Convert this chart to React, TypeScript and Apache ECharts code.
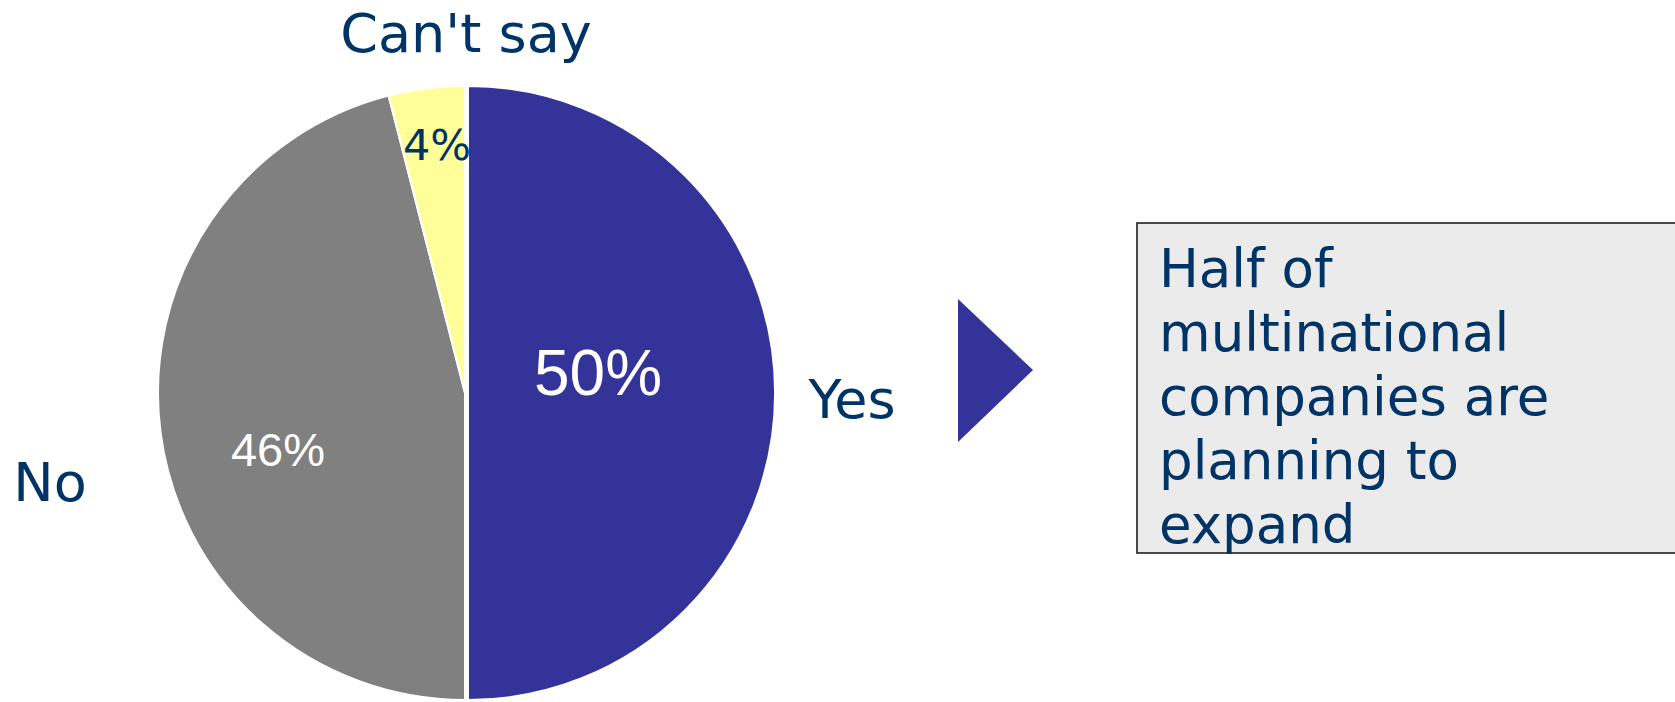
import React, { useEffect, useRef } from "react";
import * as echarts from "echarts";

const categories = ["Yes", "No", "Can't say"];
const values = [50, 46, 4];
const sliceColors = ["#333399", "#808080", "#FFFF99"];
const calloutLines = ["Half of", "multinational", "companies are", "planning to", "expand"];

const NAVY = "#003366";
const EXPLODED = 0; // index of the pulled-out slice

export default function App() {
  const ref = useRef<HTMLDivElement>(null);

  useEffect(() => {
    if (!ref.current) return;
    const chart = echarts.init(ref.current, null, { renderer: "svg" });

    const pctLabelStyles = [
      { color: "#ffffff", fontFamily: "Liberation Sans", fontSize: 64 },
      { color: "#ffffff", fontFamily: "Liberation Sans", fontSize: 47 },
      { color: NAVY, fontFamily: "DejaVu Sans", fontSize: 43 },
    ];
    const pctLabelPos = [
      [598, 373],
      [278, 449],
      [437, 145],
    ];
    const namePos = [
      [852, 399],
      [50, 482],
      [466, 33],
    ];

    const makeData = (visible: (i: number) => boolean) =>
      categories.map((name, i) => ({
        name,
        value: values[i],
        itemStyle: visible(i)
          ? { color: sliceColors[i], borderColor: "#ffffff", borderWidth: 2 }
          : { color: "rgba(0,0,0,0)", borderWidth: 0 },
        label: visible(i) ? { show: true, ...pctLabelStyles[i] } : { show: false },
      }));

    const graphics: any[] = [];
    categories.forEach((name, i) => {
      graphics.push({
        type: "text",
        x: namePos[i][0],
        y: namePos[i][1],
        z: 10,
        style: {
          text: name,
          fill: NAVY,
          font: "54px 'DejaVu Sans'",
          align: "center",
          verticalAlign: "middle",
        },
      });
    });
    graphics.push({
      type: "polygon",
      shape: { points: [[958, 299], [1033, 370], [958, 442]] },
      style: { fill: "#333399" },
    });
    graphics.push({
      type: "rect",
      shape: { x: 1137, y: 223, width: 560, height: 330 },
      style: { fill: "#ebebeb", stroke: "#111111", lineWidth: 1.5 },
    });
    graphics.push({
      type: "text",
      x: 1159,
      y: 236,
      style: {
        text: calloutLines.join("\n"),
        fill: NAVY,
        font: "53px 'DejaVu Sans'",
        lineHeight: 64,
        align: "left",
        verticalAlign: "top",
      },
    });

    const baseSeries = {
      type: "pie",
      radius: 307,
      startAngle: 90,
      clockwise: true,
      silent: true,
      emphasis: { disabled: true },
      label: {
        show: true,
        position: "inside",
        formatter: (p: any) => Math.round(p.percent) + "%",
      },
      labelLine: { show: false },
      labelLayout: (params: any) => ({
        x: pctLabelPos[params.dataIndex][0],
        y: pctLabelPos[params.dataIndex][1],
        align: "center",
        verticalAlign: "middle",
      }),
    };

    chart.setOption({
      animation: false,
      backgroundColor: "#ffffff",
      graphic: graphics,
      series: [
        {
          ...baseSeries,
          center: [465, 393],
          z: 2,
          data: makeData((i) => i !== EXPLODED),
        },
        {
          ...baseSeries,
          center: [468, 393],
          z: 2,
          data: makeData((i) => i === EXPLODED),
        },
      ],
    });

    return () => chart.dispose();
  }, []);

  return (
    <div
      ref={ref}
      style={{ position: "absolute", left: 0, top: 0, width: 1675, height: 702 }}
    />
  );
}
